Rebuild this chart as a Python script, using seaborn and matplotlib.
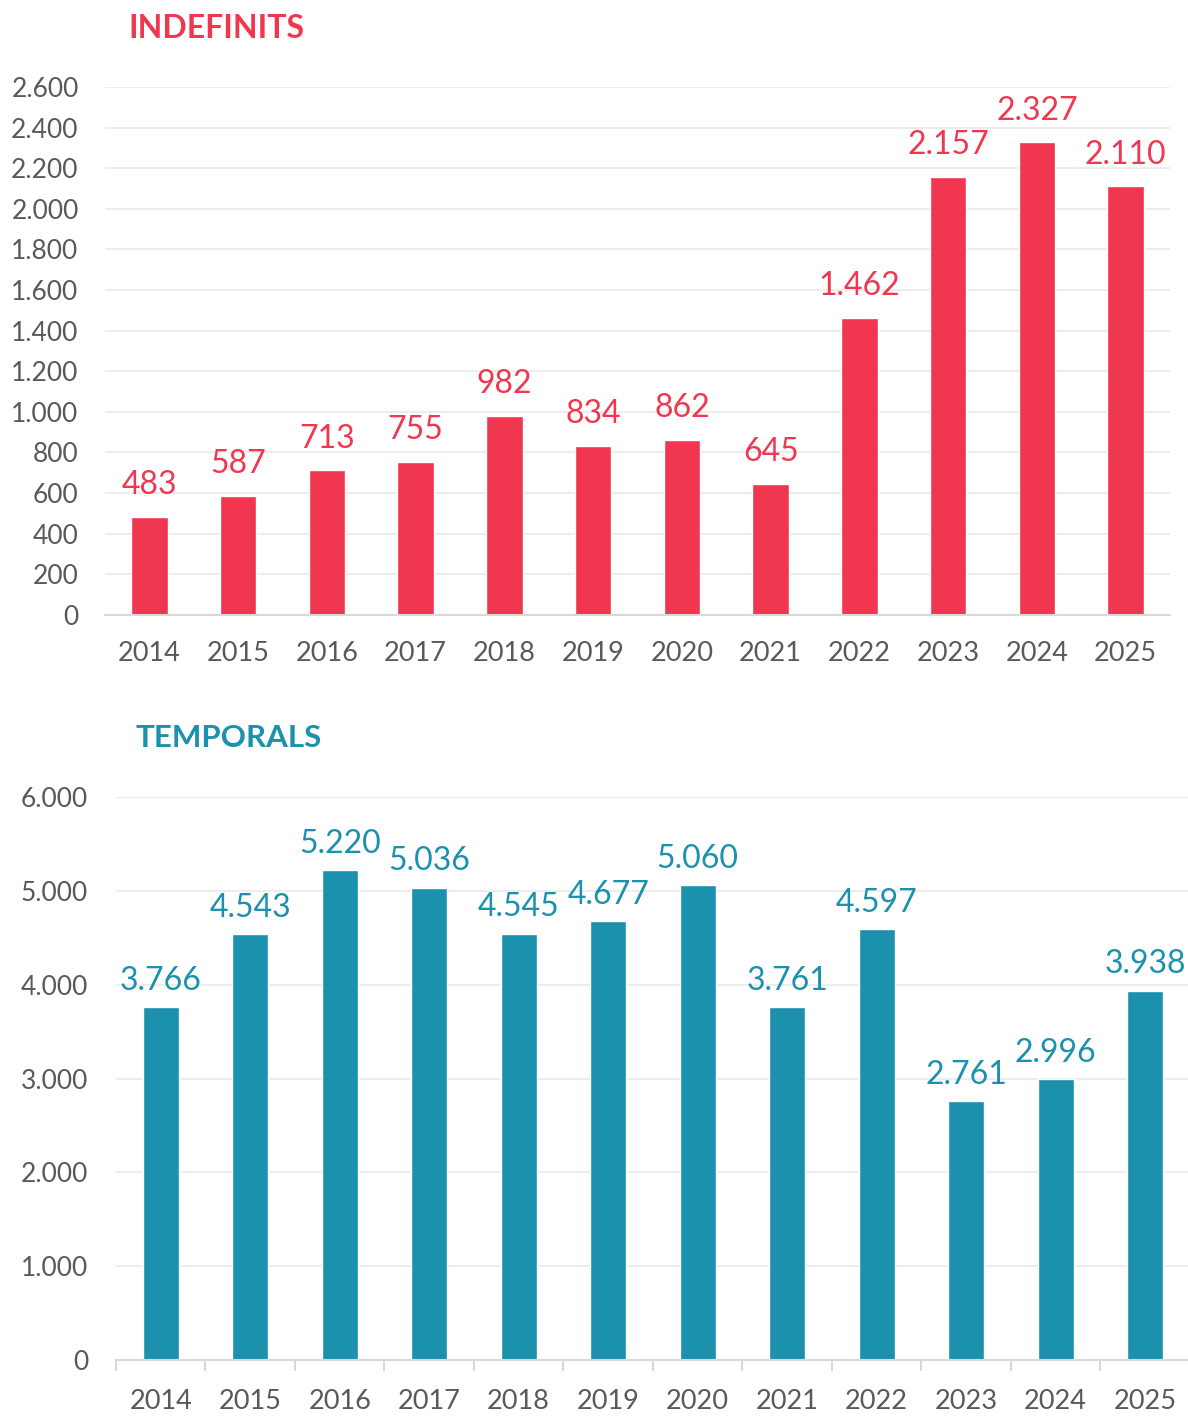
import numpy as np
import pandas as pd
import matplotlib
matplotlib.use("Agg")
import matplotlib.pyplot as plt
from matplotlib.ticker import FuncFormatter, MultipleLocator, FixedLocator
import seaborn as sns

# Dades
anys = ['2014', '2015', '2016', '2017', '2018', '2019', '2020', '2021', '2022', '2023', '2024', '2025']
indefinits = [483, 587, 713, 755, 982, 834, 862, 645, 1462, 2157, 2327, 2110]
temporals = [3766, 4543, 5220, 5036, 4545, 4677, 5060, 3761, 4597, 2761, 2996, 3938]

vermell = '#F0374F'
blau = '#1B91AE'
gris_text = '#595959'

sns.set_theme(style='white')
plt.rcParams['font.family'] = ['Lato', 'DejaVu Sans']


def punts(v, pos=None):
    # separador de milers amb punt
    return f"{int(v):,}".replace(',', '.')


fig = plt.figure(figsize=(11.88, 14.16), dpi=100)
ax1 = fig.add_axes([0.0884, 0.5657, 0.8965, 0.3729])
ax2 = fig.add_axes([0.0976, 0.0395, 0.904, 0.3976])

# Grafic INDEFINITS
df1 = pd.DataFrame({'any': anys, 'valor': indefinits})
sns.barplot(data=df1, x='any', y='valor', color=vermell, saturation=1, width=0.41, ax=ax1)
ax1.set_ylim(0, 2600)
ax1.set_xlim(-0.5, 11.5)
ax1.yaxis.set_major_locator(MultipleLocator(200))
ax1.yaxis.set_major_formatter(FuncFormatter(punts))
ax1.bar_label(ax1.containers[0], labels=[punts(v) for v in indefinits], padding=12,
              color=vermell, fontsize=23)
ax1.text(128 / 1188, 1 - 28 / 1416, 'INDEFINITS', transform=fig.transFigure,
         color=vermell, fontsize=23, fontweight='bold', va='center', ha='left')

# Grafic TEMPORALS
df2 = pd.DataFrame({'any': anys, 'valor': temporals})
sns.barplot(data=df2, x='any', y='valor', color=blau, saturation=1, width=0.4, ax=ax2)
ax2.set_ylim(0, 6000)
ax2.set_xlim(-0.5, 11.5)
ax2.yaxis.set_major_locator(MultipleLocator(1000))
ax2.yaxis.set_major_formatter(FuncFormatter(punts))
ax2.bar_label(ax2.containers[0], labels=[punts(v) for v in temporals], padding=8,
              color=blau, fontsize=23)
ax2.text(136 / 1188, 1 - 738 / 1416, 'TEMPORALS', transform=fig.transFigure,
         color=blau, fontsize=22.5, fontweight='bold', va='center', ha='left')
# marques entre categories
ax2.xaxis.set_minor_locator(FixedLocator(np.arange(-0.5, 12, 1)))
ax2.tick_params(axis='x', which='minor', bottom=True, length=8, width=1.5, color='#D9D9D9')

for ax, pad_x, pad_y in [(ax1, 19, 19), (ax2, 21, 20)]:
    ax.set_xlabel('')
    ax.set_ylabel('')
    ax.grid(axis='y', color='#EDEDED', linewidth=1.5)
    ax.set_axisbelow(True)
    for s in ['top', 'right', 'left']:
        ax.spines[s].set_visible(False)
    ax.spines['bottom'].set_color('#D9D9D9')
    ax.spines['bottom'].set_linewidth(1.5)
    ax.tick_params(axis='x', which='major', length=0, pad=pad_x, labelsize=19.5, labelcolor=gris_text)
    ax.tick_params(axis='y', length=0, pad=pad_y, labelsize=19, labelcolor=gris_text)

fig.savefig('out.png', dpi=100, facecolor='white')
